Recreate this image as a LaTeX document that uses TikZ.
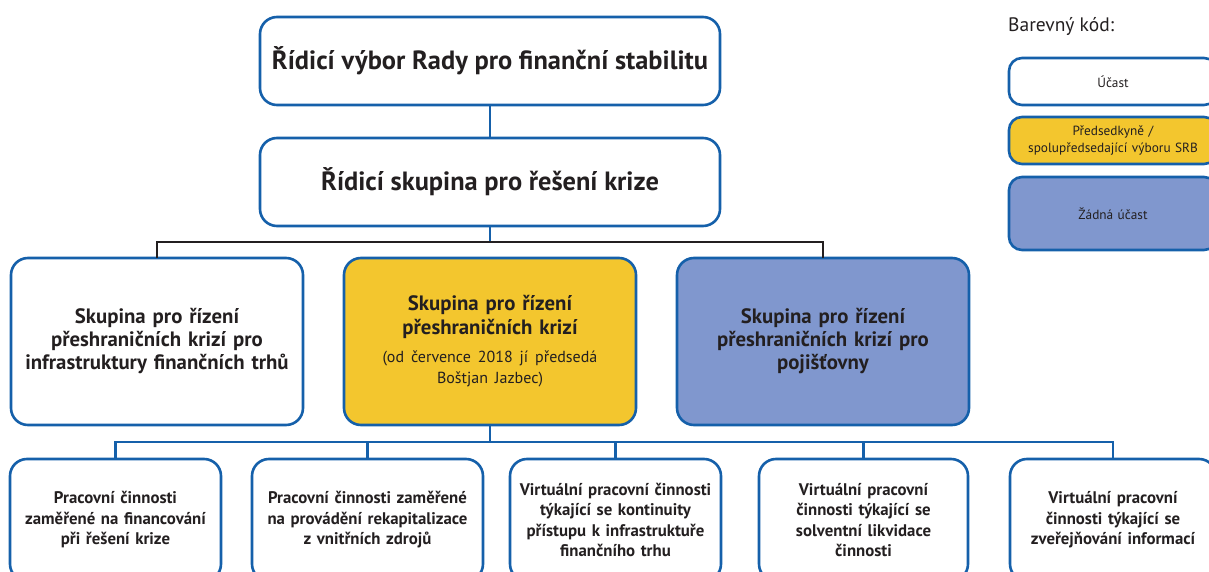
\documentclass[tikz,border=0pt]{standalone}
\usepackage{fontspec}
\setmainfont{PT Sans}
\usepackage{tikz}
\usetikzlibrary{positioning}
\definecolor{edgeblue}{RGB}{21,96,170}
\definecolor{chair}{RGB}{243,198,46}
\definecolor{absent}{RGB}{128,151,206}
\definecolor{ink}{RGB}{35,31,32}

\begin{document}
\begin{tikzpicture}[
        x=1pt, y=1pt,
        node distance=32pt,
        every node/.style={align=center, text=ink, inner sep=2pt},
        box/.style={draw=edgeblue, line width=2.6pt, outer sep=0pt, rounded corners=17pt, fill=white},
        head/.style={box, minimum width=460pt, font=\fontsize{26.4}{30}\selectfont\bfseries},
        group/.style={box, minimum width=292pt, minimum height=167pt, text width=284pt, font=\fontsize{20.8}{23}\selectfont\bfseries},
        work/.style={box, minimum height=122pt, text width=202pt, font=\fontsize{16.8}{20.5}\selectfont\bfseries},
        key/.style={box, rounded corners=13pt, minimum width=208pt, text width=200pt, font=\fontsize{13.3}{17}\selectfont},
        link/.style={draw=edgeblue, line width=2.4pt},
        tie/.style={draw=ink, line width=2.4pt}
    ]
      \useasboundingbox (0,0) rectangle (1209,-572);

      \node[head, minimum height=88pt] (fsb) at (490,-61) {Řídicí výbor Rady pro finanční stabilitu};
      \node[head, minimum height=88pt, below=33pt of fsb] (rsg) {Řídicí skupina pro řešení krize};
      \node[group, fill=chair, below=of rsg] (cmg) {{\fontsize{20.8}{24}\selectfont Skupina pro řízení\\ přeshraničních krizí\par}\vspace{7pt}{\mdseries\fontsize{16}{21}\selectfont (od července 2018 jí předsedá\\ Boštjan Jazbec)\par}};
      \node[group, left=41pt of cmg] (fmi) {Skupina pro řízení\\ přeshraničních krizí pro\\ infrastruktury finančních trhů};
      \node[group, fill=absent, right=41pt of cmg] (ins) {Skupina pro řízení\\ přeshraničních krizí pro\\ pojišťovny};

      \node[work, minimum width=211pt] (w1) at (115.5,-520) {Pracovní činnosti\\ zaměřené na financování\\ při řešení krize};
      \node[work, minimum width=231pt, right=31pt of w1] (w2) {Pracovní činnosti zaměřené\\ na provádění rekapitalizace\\ z vnitřních zdrojů};
      \node[work, minimum width=211pt, right=27pt of w2] (w3) {Virtuální pracovní činnosti\\ týkající se kontinuity\\ přístupu k infrastruktuře\\ finančního trhu};
      \node[work, minimum width=209pt, right=38pt of w3] (w4) {Virtuální pracovní\\ činnosti týkající se\\ solventní likvidace\\ činnosti};
      \node[work, minimum width=206pt, right=42pt of w4] (w5) {Virtuální pracovní\\ činnosti týkající se\\ zveřejňování informací};

      \node[anchor=base west, inner sep=0pt, font=\fontsize{19.5}{22}\selectfont] (title) at (1008,-32) {Barevný kód:};
      \node[key, minimum height=47pt] (k1) at (1113,-81.5) {Účast};
      \node[key, fill=chair, minimum height=47pt, below=12pt of k1] (k2) {Předsedkyně /\\ spolupředsedající výboru SRB};
      \node[key, fill=absent, minimum height=73pt, below=13pt of k2] (k3) {Žádná účast};

      \coordinate[below=16pt of rsg.south] (hub);
      \coordinate[below=17pt of cmg.south] (bus);

      \draw[link] (fsb) -- (rsg);
      \draw[link] (rsg.south) -- (hub);
      \draw[tie] (fmi.north) |- (hub) -| (ins.north);
      \draw[link] (cmg.south) -- (bus);
      \draw[link] (w1.north) |- (bus) -| (w5.north);
      \foreach \w in {w2, w3, w4}
        \draw[link] (\w.north) -- (\w.north |- bus);
    \end{tikzpicture}
\end{document}
